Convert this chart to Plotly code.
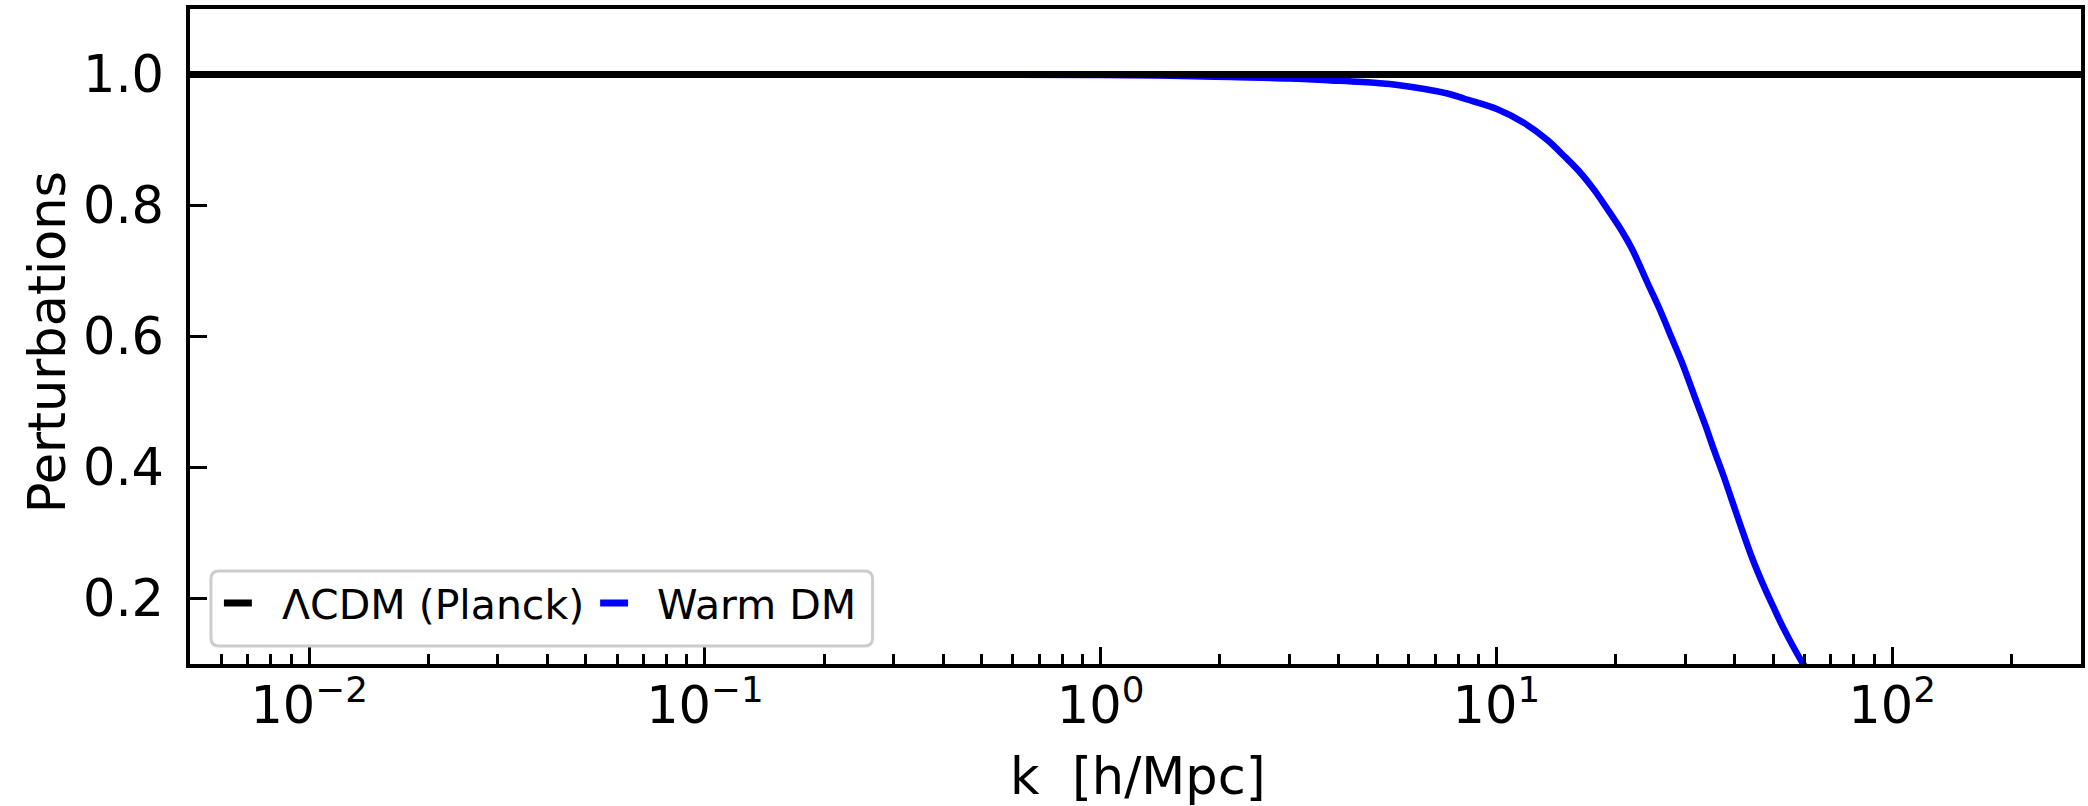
import plotly.graph_objects as go

# Wavenumber k in h/Mpc and the perturbation amplitude for each model
k_lcdm = [0.005, 300.0]
pert_lcdm = [1.0, 1.0]

k_wdm = [0.005, 0.01, 0.1, 0.5, 1.0, 1.5, 2.13, 3.0, 3.82, 5.0, 5.63, 7.52,
         8.31, 10.06, 11.75, 13.45, 14.8, 16.3, 17.6, 19.05, 20.8, 22.0,
         24.0, 25.97, 27.8, 29.4, 32.1, 33.7, 35.4, 37.5, 39.4, 41.3, 44.2,
         47.3, 50.2, 53.2, 59.6, 62.0]
pert_wdm = [1.0, 1.0, 1.0, 0.9998, 0.9993, 0.998, 0.996, 0.994, 0.991, 0.987,
            0.984, 0.971, 0.963, 0.947, 0.926, 0.900, 0.876, 0.850, 0.825,
            0.795, 0.760, 0.734, 0.684, 0.639, 0.596, 0.561, 0.499, 0.465,
            0.428, 0.387, 0.349, 0.313, 0.263, 0.220, 0.186, 0.154, 0.100,
            0.085]

series_names = ["ΛCDM (Planck)", "Warm DM"]
series_colors = ["#000000", "#0000ff"]

x_tickvals = [0.01, 0.1, 1, 10, 100]
x_ticktext = ["10<sup>−2</sup>", "10<sup>−1</sup>", "10<sup>0</sup>",
              "10<sup>1</sup>", "10<sup>2</sup>"]
y_tickvals = [0.2, 0.4, 0.6, 0.8, 1.0]
y_ticktext = ["0.2", "0.4", "0.6", "0.8", "1.0"]

x_label = "k  [h/Mpc]"
y_label = "Perturbations"

# ---- page geometry (pixels) ----
W, H = 2088, 806
ML, MR, MT, MB = 190, 3, 9, 142
PW, PH = W - ML - MR, H - MT - MB
FONT = "DejaVu Sans"


def px(x):
    """pixel column -> paper x"""
    return (x - ML) / PW


def py(y):
    """pixel row (from top) -> paper y"""
    return (H - MB - y) / PH


minor_x = [m * 10.0 ** e for e in range(-3, 3) for m in range(2, 10)
           if 0.005 <= m * 10.0 ** e <= 300]

fig = go.Figure()
fig.add_trace(go.Scatter(x=k_wdm, y=pert_wdm, mode="lines",
                         line=dict(color=series_colors[1], width=6.5,
                                   shape="spline", smoothing=1.0,
                                   simplify=False),
                         name=series_names[1], showlegend=False))
fig.add_trace(go.Scatter(x=k_lcdm, y=pert_lcdm, mode="lines",
                         line=dict(color=series_colors[0], width=7),
                         name=series_names[0], showlegend=False))

axis_common = dict(showline=True, linecolor="black", linewidth=3.5,
                   mirror=True, showgrid=False, zeroline=False,
                   ticks="inside", tickcolor="black", ticklen=17,
                   tickwidth=3,
                   tickfont=dict(family=FONT, size=51, color="black"))

fig.update_xaxes(type="log", range=[-2.30103, 2.4771213],
                 tickmode="array", tickvals=x_tickvals, ticktext=x_ticktext,
                 ticklabelstandoff=-6,
                 minor=dict(tickmode="array", tickvals=minor_x,
                            ticks="inside", ticklen=10, tickwidth=2.5,
                            tickcolor="black", showgrid=False),
                 **axis_common)
fig.update_yaxes(range=[0.1, 1.1], tickmode="array", tickvals=y_tickvals,
                 ticktext=y_ticktext, ticklabelstandoff=12, **axis_common)

# ---- legend box (lower left, rounded frame) ----
lx0, lx1, ly0, ly1, r = 211, 874, 571, 646, 8
path = (f"M {px(lx0 + r)},{py(ly0)} L {px(lx1 - r)},{py(ly0)} "
        f"Q {px(lx1)},{py(ly0)} {px(lx1)},{py(ly0 + r)} "
        f"L {px(lx1)},{py(ly1 - r)} Q {px(lx1)},{py(ly1)} {px(lx1 - r)},{py(ly1)} "
        f"L {px(lx0 + r)},{py(ly1)} Q {px(lx0)},{py(ly1)} {px(lx0)},{py(ly1 - r)} "
        f"L {px(lx0)},{py(ly0 + r)} Q {px(lx0)},{py(ly0)} {px(lx0 + r)},{py(ly0)} Z")
shapes = [dict(type="path", path=path, xref="paper", yref="paper",
               line=dict(color="#cccccc", width=3),
               fillcolor="rgba(255,255,255,0.8)", layer="above")]

handle_y = 603
handles = [(224, 252), (601, 629)]
text_x = [280, 656]
annotations = []
for (hx0, hx1), tx, name, col in zip(handles, text_x, series_names, series_colors):
    shapes.append(dict(type="line", xref="paper", yref="paper",
                       x0=px(hx0), x1=px(hx1), y0=py(handle_y), y1=py(handle_y),
                       line=dict(color=col, width=7), layer="above"))
    annotations.append(dict(text=name, xref="paper", yref="paper",
                            x=px(tx), y=py(605), xanchor="left",
                            yanchor="middle", showarrow=False,
                            font=dict(family=FONT, size=41, color="black")))

# ---- axis titles ----
annotations.append(dict(text=x_label, xref="paper", yref="paper",
                        x=px(1140), y=py(776), xanchor="center",
                        yanchor="middle", showarrow=False,
                        font=dict(family=FONT, size=51, color="black")))
annotations.append(dict(text=y_label, xref="paper", yref="paper",
                        x=px(48), y=py(342), xanchor="center",
                        yanchor="middle", textangle=-90, showarrow=False,
                        font=dict(family=FONT, size=51, color="black")))

fig.update_layout(width=W, height=H,
                  margin=dict(l=ML, r=MR, t=MT, b=MB, pad=0),
                  paper_bgcolor="white", plot_bgcolor="white",
                  showlegend=False, shapes=shapes, annotations=annotations,
                  font=dict(family=FONT, color="black"))

fig.write_html("out.html")
